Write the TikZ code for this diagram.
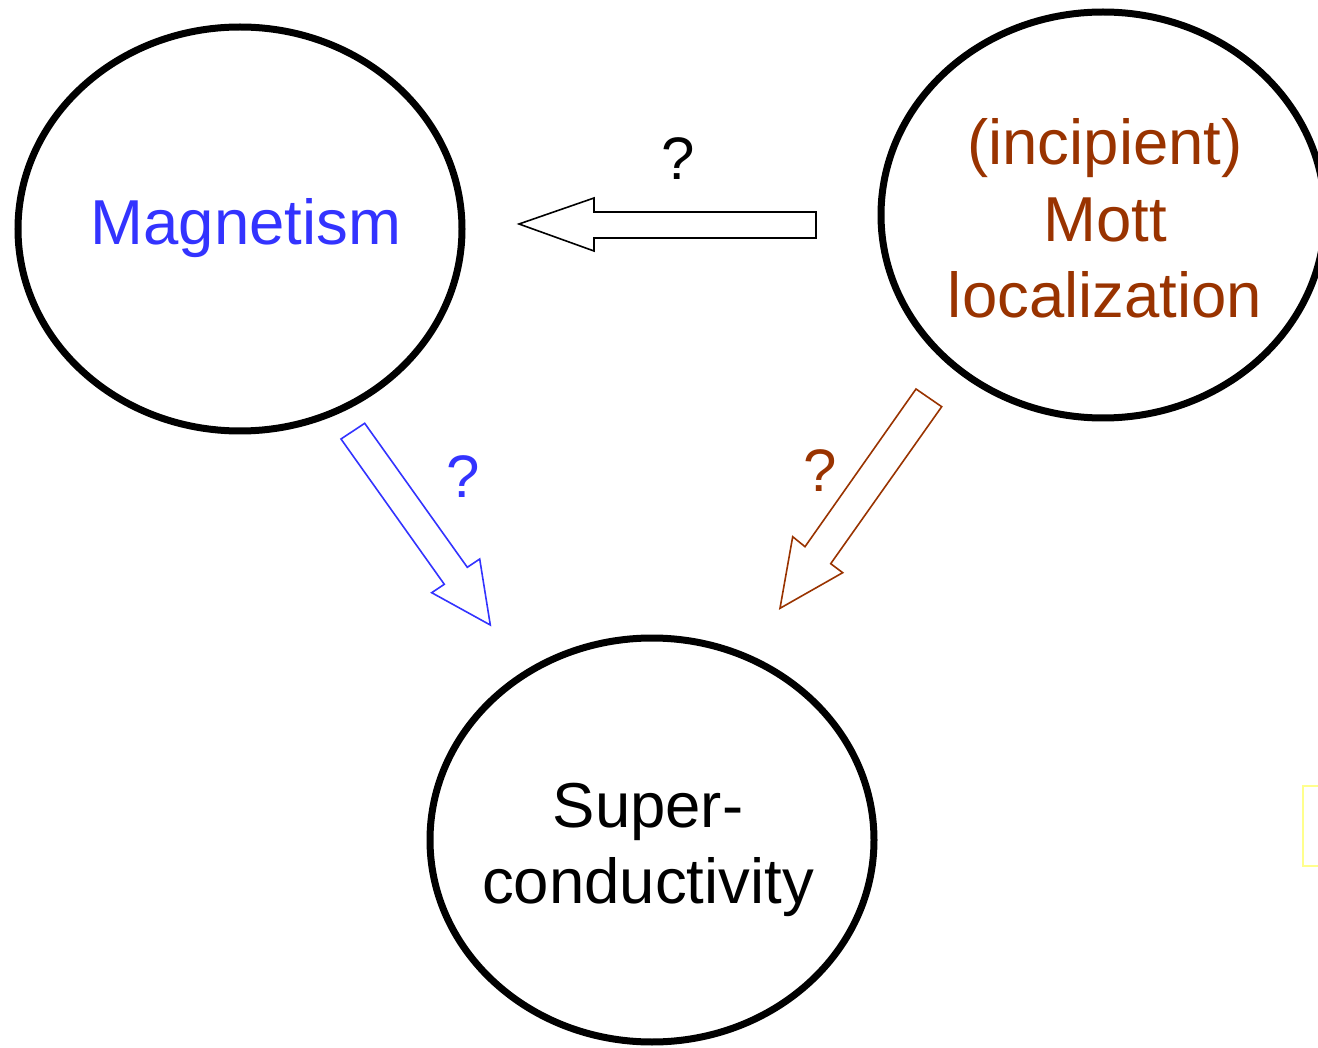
\documentclass[tikz,border=0pt]{standalone}
\usepackage{fontspec}
\setmainfont{Liberation Sans}
\usetikzlibrary{shapes.geometric}
\definecolor{magblue}{RGB}{51,51,255}
\definecolor{mottbrown}{RGB}{153,51,0}
\definecolor{paleyellow}{RGB}{255,255,140}
\tikzset{
  bubble/.style={ellipse, draw=black, line width=7pt, inner sep=0pt},
  bigtext/.style={font=\fontsize{63.5}{77}\selectfont, anchor=base, inner sep=0pt},
  qmark/.style={font=\fontsize{60}{70}\selectfont, anchor=base, inner sep=0pt},
  blockarrow/.style={line width=1.6pt, fill=white, line join=miter}
}
\begin{document}
\begin{tikzpicture}[x=1pt,y=-1pt]
\useasboundingbox (0,0) rectangle (1318,1048);
% yellow box at right edge
\draw[paleyellow, line width=2pt] (1330,786) -- (1303,786) -- (1303,866) -- (1330,866);
% ellipses
\node[bubble, minimum width=444pt, minimum height=404pt] (mag) at (240,229) {};
\node[bubble, minimum width=444pt, minimum height=406pt] (mott) at (1103,215) {};
\node[bubble, minimum width=444pt, minimum height=404pt] (sc) at (652,840) {};
% texts
\node[bigtext, text=magblue] (magt) at (246,245) {Magnetism};
\node[bigtext, text=mottbrown] (mott1) at (1105,165) {(incipient)};
\node[bigtext, text=mottbrown] (mott2) at (1105,242) {Mott};
\node[bigtext, text=mottbrown] (mott3) at (1105,318) {localization};
\node[bigtext] (sc1) at (648,827) {Super-};
\node[bigtext] (sc2) at (648,903) {conductivity};
% question marks
\node[qmark] (q1) at (678,180) {?};
\node[qmark, text=magblue] (q2) at (463,497) {?};
\node[qmark, text=mottbrown] (q3) at (820,492) {?};
% block arrows
\draw[blockarrow, draw=black] (816,212) -- (594,212) -- (594,198) -- (519,224) -- (594,251) -- (594,238) -- (816,238) -- cycle;
\draw[blockarrow, draw=magblue] (341,439) -- (364.7,423.3) -- (467.3,567.3) -- (479.7,559) -- (490.3,625) -- (431.7,592.7) -- (444.3,584.3) -- cycle;
\draw[blockarrow, draw=mottbrown] (916,389) -- (941.7,406.7) -- (830.7,563.7) -- (842.7,572.7) -- (780,608.3) -- (792.7,536.7) -- (805,546.7) -- cycle;
\end{tikzpicture}
\end{document}
